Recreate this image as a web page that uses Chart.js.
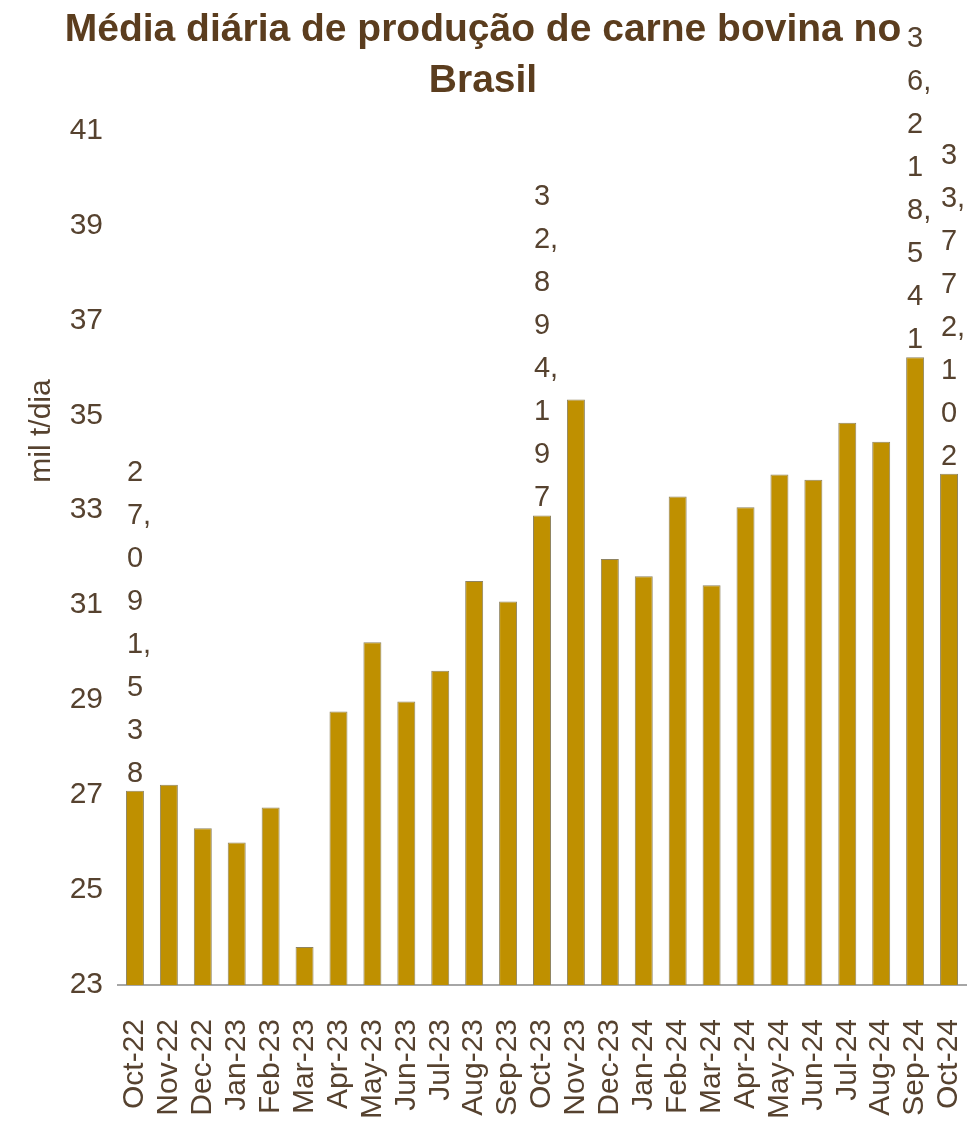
<!DOCTYPE html>
<html>
<head>
<meta charset="utf-8">
<script src="https://cdn.jsdelivr.net/npm/chart.js@4.4.1/dist/chart.umd.min.js"></script>
<style>
html,body{margin:0;padding:0;background:#ffffff;}
#wrap{width:973px;height:1121px;position:relative;}
</style>
</head>
<body>
<div id="wrap"><canvas id="c" width="973" height="1121"></canvas></div>
<script>
const categories = ["Oct-22","Nov-22","Dec-22","Jan-23","Feb-23","Mar-23","Apr-23","May-23","Jun-23","Jul-23","Aug-23","Sep-23","Oct-23","Nov-23","Dec-23","Jan-24","Feb-24","Mar-24","Apr-24","May-24","Jun-24","Jul-24","Aug-24","Sep-24","Oct-24"];
const values = [27.09, 27.22, 26.30, 26.00, 26.74, 23.80, 28.76, 30.22, 28.97, 29.62, 31.51, 31.08, 32.89, 35.33, 31.97, 31.61, 33.29, 31.42, 33.06, 33.75, 33.64, 34.84, 34.44, 36.22, 33.77];
const dataLabels = ["27,091,538", null, null, null, null, null, null, null, null, null, null, null, "32,894,197", null, null, null, null, null, null, null, null, null, null, "36,218,541", "33,772,102"];
const yTicks = [23, 25, 27, 29, 31, 33, 35, 37, 39, 41];
const titleLines = ["Média diária de produção de carne bovina no", "Brasil"];
const yTitle = "mil t/dia";

const FONT = "'Liberation Sans', Arial, sans-serif";
const TEXT = "#56422f";
const TITLE = "#5b3d1e";

function splitLabel(s) {
  const out = [];
  for (const ch of s) {
    if (ch === ',' && out.length) out[out.length - 1] += ch;
    else out.push(ch);
  }
  return out;
}

const labelPlugin = {
  id: 'stackedDigits',
  afterDatasetsDraw(chart) {
    const meta = chart.getDatasetMeta(0);
    const ctx = chart.ctx;
    ctx.save();
    ctx.font = "29px " + FONT;
    ctx.fillStyle = TEXT;
    ctx.textBaseline = 'alphabetic';
    ctx.textAlign = 'left';
    meta.data.forEach((bar, i) => {
      const s = dataLabels[i];
      if (!s) return;
      const lines = splitLabel(s);
      const step = 43;
      const baseY = bar.y - 9;
      lines.forEach((ln, k) => {
        const y = baseY - (lines.length - 1 - k) * step;
        const digitW = ctx.measureText(ln[0]).width;
        ctx.fillText(ln, bar.x - digitW / 2, y);
      });
    });
    ctx.restore();
  }
};

const yTitlePlugin = {
  id: 'yTitle',
  afterDraw(chart) {
    const ctx = chart.ctx;
    ctx.save();
    ctx.font = "30px " + FONT;
    ctx.fillStyle = TEXT;
    ctx.translate(42, 431);
    ctx.rotate(-Math.PI / 2);
    ctx.textAlign = 'center';
    ctx.textBaseline = 'middle';
    ctx.fillText(yTitle, 0, 0);
    ctx.restore();
  }
};

new Chart(document.getElementById('c'), {
  type: 'bar',
  data: {
    labels: categories,
    datasets: [{
      data: values,
      backgroundColor: '#BF9000',
      borderColor: '#8f8461',
      borderWidth: 1,
      categoryPercentage: 1.0,
      barPercentage: 0.53
    }]
  },
  options: {
    responsive: false,
    animation: false,
    devicePixelRatio: 1,
    layout: { padding: { left: 0, right: 7, top: 0, bottom: 0 } },
    plugins: {
      legend: { display: false },
      tooltip: { enabled: false },
      title: {
        display: true,
        text: titleLines,
        color: TITLE,
        font: { family: FONT, size: 39, weight: 'bold', lineHeight: 1.3 },
        padding: { top: 5, bottom: 24 }
      }
    },
    scales: {
      x: {
        grid: { display: false, drawTicks: false },
        border: { display: true, color: '#a6a6a6', width: 2 },
        ticks: {
          color: TEXT,
          font: { family: FONT, size: 30 },
          maxRotation: 90,
          minRotation: 90,
          autoSkip: false,
          padding: 34
        },
        afterFit(scale) {
          scale.paddingLeft = 0; scale.paddingRight = 0;
          scale.paddingTop = 0; scale.paddingBottom = 0;
          scale.height = 136;
        }
      },
      y: {
        min: 23,
        max: 41,
        grid: { display: false, drawTicks: false },
        border: { display: false },
        afterBuildTicks(scale) { scale.ticks = yTicks.map(v => ({ value: v })); },
        ticks: {
          color: TEXT,
          font: { family: FONT, size: 30 },
          padding: 15
        },
        afterFit(scale) {
          scale.width = 118;
          scale.paddingTop = 0; scale.paddingBottom = 0;
        }
      }
    }
  },
  plugins: [labelPlugin, yTitlePlugin]
});
</script>
</body>
</html>
